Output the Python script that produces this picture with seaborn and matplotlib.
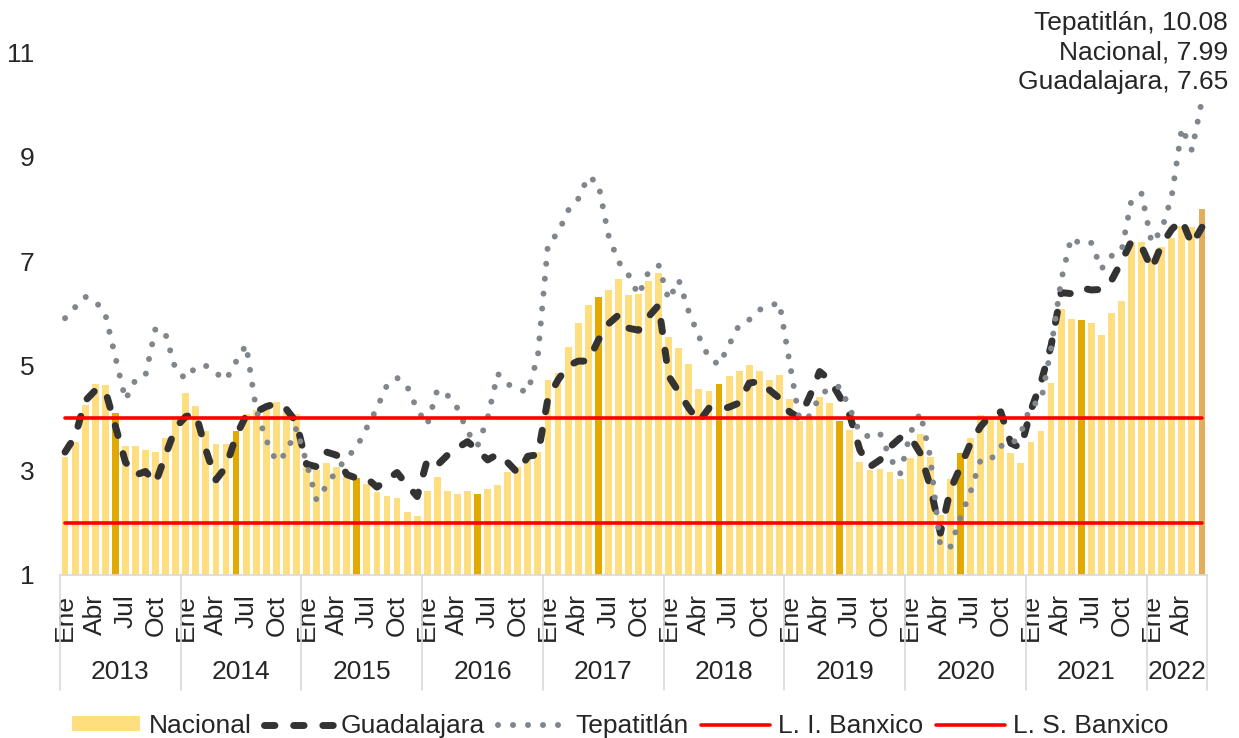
import matplotlib
matplotlib.use("Agg")
import matplotlib.pyplot as plt
import matplotlib.transforms as mtransforms
from matplotlib.lines import Line2D
from matplotlib.patches import Patch
import seaborn as sns
import pandas as pd

# Inflación anual (%), enero 2013 - junio 2022
years = [2013, 2014, 2015, 2016, 2017, 2018, 2019, 2020, 2021, 2022]
month_ticks = ["Ene", "Abr", "Jul", "Oct"]

nacional = [
    3.25, 3.55, 4.25, 4.65, 4.63, 4.09, 3.47, 3.46, 3.39, 3.36, 3.62, 3.97,
    4.48, 4.23, 3.76, 3.50, 3.51, 3.75, 4.07, 4.15, 4.22, 4.30, 4.17, 4.08,
    3.07, 3.00, 3.14, 3.06, 2.88, 2.85, 2.74, 2.59, 2.52, 2.48, 2.21, 2.13,
    2.61, 2.87, 2.60, 2.54, 2.60, 2.54, 2.65, 2.73, 2.97, 3.06, 3.31, 3.36,
    4.72, 4.86, 5.35, 5.82, 6.16, 6.31, 6.44, 6.66, 6.35, 6.37, 6.63, 6.77,
    5.55, 5.34, 5.04, 4.55, 4.51, 4.65, 4.81, 4.90, 5.02, 4.90, 4.72, 4.83,
    4.37, 3.94, 4.00, 4.41, 4.28, 3.95, 3.78, 3.16, 3.00, 3.02, 2.97, 2.83,
    3.24, 3.70, 3.25, 2.15, 2.84, 3.33, 3.62, 4.05, 4.01, 4.09, 3.33, 3.15,
    3.54, 3.76, 4.67, 6.08, 5.89, 5.88, 5.81, 5.59, 6.00, 6.24, 7.37, 7.36,
    7.07, 7.28, 7.45, 7.68, 7.65, 7.99,
]

guadalajara = [
    3.35, 3.65, 4.33, 4.53, 4.53, 3.85, 3.16, 2.91, 2.98, 2.76, 3.30, 3.82,
    4.03, 4.08, 3.39, 2.82, 3.07, 3.66, 4.05, 4.12, 4.22, 4.28, 4.17, 3.92,
    3.12, 3.07, 3.35, 3.29, 2.92, 2.85, 2.85, 2.68, 2.82, 2.96, 2.72, 2.50,
    3.20, 3.10, 3.29, 3.43, 3.55, 3.39, 3.20, 3.31, 3.15, 2.95, 3.27, 3.30,
    4.38, 4.73, 5.00, 5.09, 5.09, 5.49, 5.80, 5.97, 5.72, 5.68, 5.94, 6.16,
    4.80, 4.50, 4.19, 3.93, 4.19, 4.16, 4.21, 4.29, 4.67, 4.70, 4.54, 4.38,
    4.12, 4.00, 4.41, 4.89, 4.73, 4.41, 4.05, 3.39, 3.07, 3.20, 3.45, 3.62,
    3.64, 3.33, 2.69, 1.80, 2.63, 3.07, 3.52, 3.84, 4.06, 4.12, 3.52, 3.43,
    4.15, 4.68, 5.38, 6.40, 6.38, 6.49, 6.45, 6.46, 6.63, 6.99, 7.39, 7.28,
    6.85, 7.32, 7.61, 7.79, 7.32, 7.65,
]

tepatitlan = [
    5.91, 6.12, 6.32, 6.24, 5.99, 5.17, 4.35, 4.73, 4.82, 5.72, 5.60, 4.92,
    4.75, 4.98, 5.00, 4.86, 4.73, 5.08, 5.40, 4.16, 3.58, 3.17, 3.33, 3.81,
    3.15, 2.43, 2.71, 3.00, 3.24, 3.45, 3.82, 4.19, 4.63, 4.77, 4.61, 4.16,
    3.87, 4.54, 4.44, 4.19, 3.74, 3.47, 4.00, 4.85, 4.65, 4.55, 4.50, 5.20,
    7.33, 7.54, 7.97, 8.19, 8.62, 8.49, 7.50, 6.99, 6.74, 6.35, 6.80, 6.92,
    6.26, 6.64, 6.03, 5.56, 5.15, 5.02, 5.40, 5.78, 5.88, 6.07, 6.14, 6.21,
    5.08, 3.96, 4.04, 4.41, 4.59, 4.60, 4.19, 3.71, 3.64, 3.71, 3.24, 2.93,
    3.71, 4.10, 3.26, 1.54, 1.54, 2.10, 2.59, 3.20, 3.20, 3.47, 3.47, 3.71,
    4.25, 4.32, 5.33, 6.63, 7.45, 7.32, 7.35, 6.85, 7.10, 7.19, 8.18, 8.29,
    7.35, 7.60, 8.25, 9.55, 9.12, 10.08,
]

banxico_li = [2.0] * len(nacional)
banxico_ls = [4.0] * len(nacional)

n = len(nacional)
df = pd.DataFrame({
    "mes": range(n),
    "Nacional": nacional,
    "Guadalajara": guadalajara,
    "Tepatitlan": tepatitlan,
    "LI": banxico_li,
    "LS": banxico_ls,
})

COL_BAR = "#FFDE80"
COL_JUN = "#E2AA00"
COL_LAST = "#E3AD5C"
COL_GDL = "#333333"
COL_TEP = "#80868C"
COL_RED = "#FF0000"
COL_AXIS = "#D9D9D9"

sns.set_theme(style="white")
plt.rcParams["font.family"] = ["Liberation Sans", "DejaVu Sans"]
FS = 19

W, H = 1239, 738
fig = plt.figure(figsize=(W / 100, H / 100), dpi=100)
ax = fig.add_axes([60 / W, 163 / H, 1147 / W, 523 / H])

# Barras (Nacional)
sns.barplot(data=df, x="mes", y="Nacional", color=COL_BAR, saturation=1,
            width=0.68, ax=ax)
for i, patch in enumerate(ax.patches):
    if i == n - 1:
        patch.set_facecolor(COL_LAST)
    elif i % 12 == 5:
        patch.set_facecolor(COL_JUN)
    patch.set_edgecolor("none")

gdl_style = dict(color=COL_GDL, linewidth=5.0, linestyle=(0, (1.5, 2.7)),
                 dash_capstyle="round")
tep_style = dict(color=COL_TEP, linewidth=4.3, linestyle=(0, (0.01, 2.5)),
                 dash_capstyle="round")
red_style = dict(color=COL_RED, linewidth=2.6)

sns.lineplot(data=df, x="mes", y="Guadalajara", ax=ax, **gdl_style)
sns.lineplot(data=df, x="mes", y="Tepatitlan", ax=ax, **tep_style)
sns.lineplot(data=df, x="mes", y="LI", ax=ax, **red_style)
sns.lineplot(data=df, x="mes", y="LS", ax=ax, **red_style)

ax.set_xlim(-0.5, n - 0.5)
ax.set_ylim(1, 11)
ax.set_yticks([1, 3, 5, 7, 9, 11])
ax.set_xlabel("")
ax.set_ylabel("")

tick_pos = list(range(0, n, 3))
ax.set_xticks(tick_pos)
ax.set_xticklabels([month_ticks[(p % 12) // 3] for p in tick_pos], rotation=90)
ax.tick_params(axis="x", length=0, pad=14, labelsize=FS)
ax.tick_params(axis="y", length=0, pad=18.5, labelsize=FS)

sns.despine(ax=ax, left=True)
ax.spines["bottom"].set_color(COL_AXIS)
ax.spines["bottom"].set_linewidth(1.2)

# Eje de categorías de dos niveles (años)
blend = mtransforms.blended_transform_factory(ax.transData, ax.transAxes)
for k, yr in enumerate(years):
    start = 12 * k - 0.5
    end = min(12 * (k + 1), n) - 0.5
    ax.text((start + end) / 2, -0.186, str(yr), transform=blend,
            ha="center", va="center", fontsize=FS)
    ax.plot([start, start], [0, -0.22], transform=blend, color=COL_AXIS,
            lw=1.2, clip_on=False)
ax.plot([n - 0.5, n - 0.5], [0, -0.22], transform=blend, color=COL_AXIS,
        lw=1.2, clip_on=False)

# Últimos valores
fig.text(1228 / W, 1 - 11 / H,
         f"Tepatitlán, {tepatitlan[-1]:.2f}\n"
         f"Nacional, {nacional[-1]:.2f}\n"
         f"Guadalajara, {guadalajara[-1]:.2f}",
         ha="right", va="top", fontsize=FS, linespacing=1.3)

handles = [
    Patch(facecolor=COL_BAR, edgecolor="none"),
    Line2D([], [], **gdl_style),
    Line2D([], [], **tep_style),
    Line2D([], [], **red_style),
    Line2D([], [], **red_style),
]
labels = ["Nacional", "Guadalajara", "Tepatitlán", "L. I. Banxico", "L. S. Banxico"]
fig.legend(handles, labels, loc="lower center", bbox_to_anchor=(620 / W, 0.0),
           ncol=5, frameon=False, fontsize=FS, handlelength=2.6,
           handleheight=0.5, handletextpad=0.3, columnspacing=0.5,
           borderaxespad=0.0, borderpad=0.0)

fig.savefig("out.png", dpi=100)
